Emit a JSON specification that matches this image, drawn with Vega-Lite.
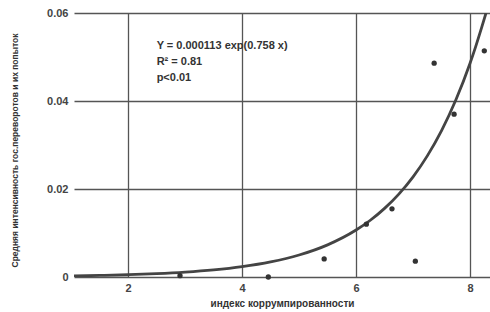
{
  "$schema": "https://vega.github.io/schema/vega-lite/v6.json",
  "autosize": "none",
  "width": 416,
  "height": 264,
  "padding": {"left": 74, "top": 13, "right": 0, "bottom": 35},
  "background": "white",
  "config": {
    "view": {"stroke": null},
    "font": "Liberation Sans"
  },
  "datasets": {
    "pts": [
      {"x": 2.91, "y": 0.0003},
      {"x": 4.46, "y": 0.0},
      {"x": 5.44, "y": 0.0041},
      {"x": 6.18, "y": 0.012},
      {"x": 6.63, "y": 0.0155},
      {"x": 7.04, "y": 0.0036},
      {"x": 7.37, "y": 0.0486},
      {"x": 7.72, "y": 0.037},
      {"x": 8.25, "y": 0.0514}
    ],
    "fit": [
      {"x": 1.05, "y": 0.00025},
      {"x": 1.5, "y": 0.000352},
      {"x": 2.0, "y": 0.000515},
      {"x": 2.5, "y": 0.000752},
      {"x": 3.0, "y": 0.001098},
      {"x": 3.5, "y": 0.001604},
      {"x": 4.0, "y": 0.002344},
      {"x": 4.5, "y": 0.003423},
      {"x": 5.0, "y": 0.005001},
      {"x": 5.5, "y": 0.007305},
      {"x": 6.0, "y": 0.010672},
      {"x": 6.25, "y": 0.012896},
      {"x": 6.5, "y": 0.015591},
      {"x": 6.75, "y": 0.01884},
      {"x": 7.0, "y": 0.02277},
      {"x": 7.25, "y": 0.02753},
      {"x": 7.5, "y": 0.03327},
      {"x": 7.75, "y": 0.04021},
      {"x": 8.0, "y": 0.04859},
      {"x": 8.1, "y": 0.05243},
      {"x": 8.2, "y": 0.05657},
      {"x": 8.28, "y": 0.06}
    ]
  },
  "layer": [
    {
      "data": {"name": "fit"},
      "mark": {"type": "line", "color": "#444444", "strokeWidth": 2.8, "clip": true, "interpolate": "monotone"},
      "encoding": {
        "x": {
          "field": "x", "type": "quantitative",
          "scale": {"domain": [1.05, 8.35], "nice": false, "zero": false},
          "axis": {
            "values": [2, 4, 6, 8],
            "labelExpr": "datum.value",
            "domain": false, "ticks": false,
            "grid": true, "gridColor": "#555555", "gridWidth": 1.3, "gridOpacity": 1,
            "labelFont": "Liberation Sans", "labelFontWeight": "bold", "labelFontSize": 11, "labelColor": "#444444",
            "labelPadding": 5,
            "title": "индекс коррумпированности",
            "titleFont": "Liberation Sans", "titleFontWeight": "bold", "titleFontSize": 10, "titleColor": "#333333",
            "titleY": 26, "titleBaseline": "middle"
          }
        },
        "y": {
          "field": "y", "type": "quantitative",
          "scale": {"domain": [0, 0.06], "nice": false},
          "axis": {
            "values": [0, 0.02, 0.04, 0.06],
            "labelExpr": "datum.value",
            "domain": false, "ticks": false,
            "grid": true, "gridColor": "#555555", "gridWidth": 1.3, "gridOpacity": 1,
            "labelFont": "Liberation Sans", "labelFontWeight": "bold", "labelFontSize": 11, "labelColor": "#444444",
            "labelPadding": 6,
            "title": "Средняя интенсивность гос.переворотов и их попыток",
            "titleFont": "Liberation Sans", "titleFontWeight": "bold", "titleFontSize": 8.5, "titleColor": "#333333",
            "titleX": -60, "titleY": 137, "titleAlign": "center", "titleBaseline": "middle", "titleAngle": -90
          }
        }
      }
    },
    {
      "data": {"name": "pts"},
      "mark": {"type": "circle", "color": "#333333", "size": 28, "opacity": 1},
      "encoding": {
        "x": {"field": "x", "type": "quantitative"},
        "y": {"field": "y", "type": "quantitative"}
      }
    },
    {
      "data": {"values": [{}]},
      "mark": {
        "type": "text", "align": "left", "baseline": "middle",
        "font": "Liberation Sans", "fontWeight": "bold", "fontSize": 11, "color": "#333333",
        "lineHeight": 16
      },
      "encoding": {
        "x": {"datum": 2.5, "type": "quantitative"},
        "y": {"datum": 0.0525, "type": "quantitative"},
        "text": {"value": ["Y = 0.000113 exp(0.758 x)", "R² = 0.81", "p<0.01"]}
      }
    }
  ]
}
